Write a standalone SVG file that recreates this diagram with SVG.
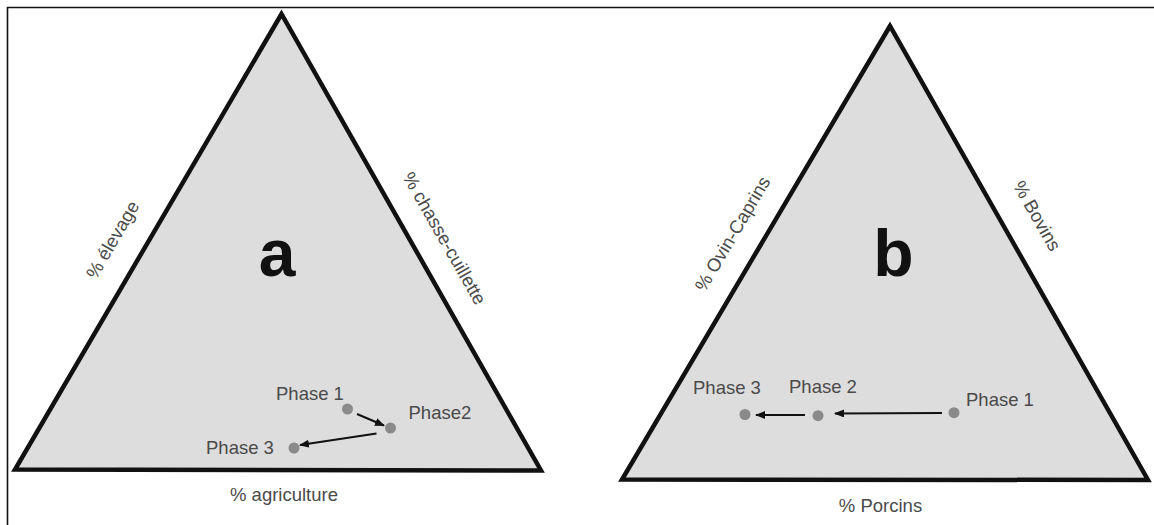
<svg xmlns="http://www.w3.org/2000/svg" width="1154" height="525" viewBox="0 0 1154 525">
<style>
.tri{fill:#dddddd;stroke:#111;stroke-width:4.5;stroke-linejoin:miter}
.lbl{font-family:"Liberation Sans",Arial,sans-serif;font-size:18.5px;fill:#4a4a4a}
.big{font-family:"Liberation Sans",Arial,sans-serif;font-size:66px;font-weight:bold;fill:#111;text-anchor:middle}
.dot{fill:#8a8a8a}
.arr{stroke:#111;stroke-width:2;fill:none;marker-end:url(#ah)}
</style>
<defs>
<marker id="ah" viewBox="0 0 10 8" refX="9" refY="4" markerWidth="5" markerHeight="4" orient="auto" markerUnits="strokeWidth">
<path d="M0,0 L10,4 L0,8 Z" fill="#111"/>
</marker>
</defs>
<rect width="1154" height="525" fill="#fff"/>
<path d="M7.5,525 V7.5 H1154" fill="none" stroke="#111" stroke-width="1.6"/>
<g id="panel-a">
<polygon class="tri" points="281.5,14 15,469.5 541,470.5"/>
<text class="big" x="277" y="276">a</text>
<text class="lbl" text-anchor="middle" transform="translate(118,243) rotate(-59.6)">% élevage</text>
<text class="lbl" text-anchor="middle" transform="translate(439,241.5) rotate(60.3)">% chasse-cuillette</text>
<text class="lbl" text-anchor="middle" x="284" y="501">% agriculture</text>
</g>
<g id="a-phase1"><circle class="dot" cx="347.5" cy="409" r="5.5"/><text class="lbl" x="276" y="399.5">Phase 1</text></g>
<g id="a-phase2"><circle class="dot" cx="390.5" cy="428" r="5.5"/><text class="lbl" x="408.5" y="418.5">Phase2</text></g>
<g id="a-phase3"><circle class="dot" cx="294" cy="448" r="5.5"/><text class="lbl" x="206" y="453.5">Phase 3</text></g>
<g id="panel-b">
<polygon class="tri" points="890,26 622,479.5 1148,480"/>
<text class="big" x="893.5" y="276">b</text>
<text class="lbl" text-anchor="middle" transform="translate(738,237) rotate(-59.4)">% Ovin-Caprins</text>
<text class="lbl" text-anchor="middle" transform="translate(1031.5,219) rotate(60.4)">% Bovins</text>
<text class="lbl" text-anchor="middle" x="880.5" y="512">% Porcins</text>
</g>
<g id="b-phase1"><circle class="dot" cx="954" cy="412.7" r="5.5"/><text class="lbl" x="966" y="405.5">Phase 1</text></g>
<g id="b-phase2"><circle class="dot" cx="818" cy="415.7" r="5.5"/><text class="lbl" x="789" y="393">Phase 2</text></g>
<g id="b-phase3"><circle class="dot" cx="745" cy="414.5" r="5.5"/><text class="lbl" x="693" y="394">Phase 3</text></g>
<g id="connectors">
<line class="arr" x1="357" y1="414" x2="384" y2="425.5"/>
<line class="arr" x1="376.5" y1="433.5" x2="300" y2="445"/>
<line class="arr" x1="942" y1="413" x2="835" y2="413.5"/>
<line class="arr" x1="805" y1="415" x2="756" y2="415"/>
</g>
</svg>
